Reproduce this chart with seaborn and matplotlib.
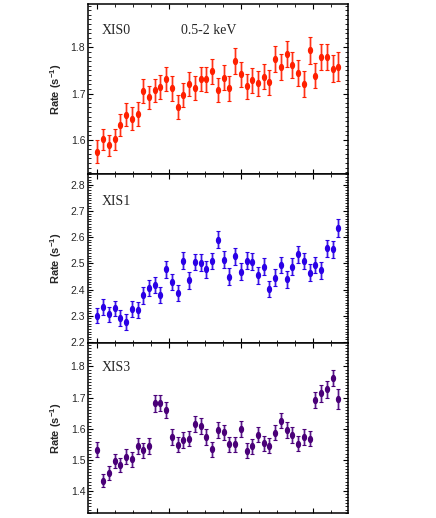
import numpy as np
import pandas as pd
import matplotlib
matplotlib.use("Agg")
import matplotlib.pyplot as plt
import seaborn as sns
from matplotlib.path import Path
from matplotlib.ticker import MultipleLocator, NullFormatter

sns.set_style("ticks")
plt.rcParams["font.family"] = ["Liberation Sans", "DejaVu Sans"]
plt.rcParams["mathtext.default"] = "regular"

# ------------------------------
# data
# ------------------------------
time_bin = list(range(43))

rate_xis0 = [1.575, 1.601, 1.588, 1.601, 1.632, 1.654, 1.646, 1.656, 1.705, 1.692,
             1.707, 1.715, 1.731, 1.711, 1.671, 1.696, 1.721, 1.712, 1.731, 1.731,
             1.748, 1.707, 1.734, 1.711, 1.770, 1.742, 1.716, 1.729, 1.722, 1.736,
             1.724, 1.774, 1.757, 1.786, 1.762, 1.744, 1.721, 1.793, 1.739, 1.779,
             1.779, 1.754, 1.758]
err_xis0 = [0.024, 0.022, 0.023, 0.023, 0.024, 0.025, 0.025, 0.025, 0.026, 0.025,
            0.025, 0.026, 0.026, 0.026, 0.025, 0.026, 0.026, 0.026, 0.026, 0.027,
            0.027, 0.026, 0.027, 0.026, 0.028, 0.027, 0.027, 0.027, 0.027, 0.027,
            0.027, 0.028, 0.028, 0.028, 0.028, 0.028, 0.028, 0.030, 0.028, 0.029,
            0.029, 0.029, 0.031]

rate_xis1 = [2.301, 2.333, 2.306, 2.328, 2.291, 2.277, 2.327, 2.322, 2.378, 2.405,
             2.418, 2.379, 2.478, 2.429, 2.386, 2.510, 2.435, 2.505, 2.503, 2.477,
             2.509, 2.591, 2.514, 2.449, 2.527, 2.468, 2.510, 2.506, 2.454, 2.488,
             2.403, 2.445, 2.494, 2.440, 2.488, 2.535, 2.509, 2.464, 2.494, 2.474,
             2.558, 2.554, 2.635]
err_xis1 = [0.030, 0.030, 0.029, 0.030, 0.030, 0.030, 0.031, 0.031, 0.031, 0.031,
            0.031, 0.031, 0.032, 0.032, 0.031, 0.032, 0.032, 0.032, 0.032, 0.032,
            0.032, 0.033, 0.032, 0.032, 0.032, 0.032, 0.032, 0.032, 0.032, 0.032,
            0.031, 0.032, 0.032, 0.032, 0.032, 0.033, 0.032, 0.032, 0.032, 0.032,
            0.033, 0.033, 0.036]

rate_xis3 = [1.532, 1.432, 1.457, 1.495, 1.484, 1.509, 1.502, 1.545, 1.530, 1.545,
             1.681, 1.683, 1.660, 1.574, 1.548, 1.564, 1.568, 1.614, 1.609, 1.573,
             1.534, 1.596, 1.588, 1.550, 1.550, 1.598, 1.529, 1.543, 1.581, 1.553,
             1.545, 1.587, 1.626, 1.596, 1.580, 1.551, 1.574, 1.568, 1.691, 1.713,
             1.726, 1.763, 1.694]
err_xis3 = [0.024, 0.021, 0.022, 0.023, 0.023, 0.024, 0.024, 0.025, 0.024, 0.025,
            0.026, 0.026, 0.026, 0.025, 0.024, 0.025, 0.025, 0.025, 0.025, 0.025,
            0.024, 0.025, 0.025, 0.024, 0.024, 0.025, 0.024, 0.024, 0.025, 0.024,
            0.024, 0.025, 0.025, 0.025, 0.025, 0.024, 0.025, 0.025, 0.026, 0.026,
            0.026, 0.025, 0.032]

panels = [
    ("XIS0", rate_xis0, err_xis0, "#ff2000", "#ff9a90", (1.527, 1.893), [1.6, 1.7, 1.8], 0.847),
    ("XIS1", rate_xis1, err_xis1, "#2a00e6", "#9c8cf0", (2.195, 2.842), [2.2, 2.3, 2.4, 2.5, 2.6, 2.7, 2.8], 0.834),
    ("XIS3", rate_xis3, err_xis3, "#4a0078", "#ad90cc", (1.329, 1.874), [1.4, 1.5, 1.6, 1.7, 1.8], 0.859),
]

# tall ellipse marker
theta = np.linspace(0, 2 * np.pi, 40)
ellipse = Path(np.column_stack([0.72 * np.cos(theta), np.sin(theta)]), closed=True)

fig, axes = plt.subplots(3, 1, figsize=(4.36, 5.18), dpi=100)
fig.subplots_adjust(left=0.202, right=0.798, top=0.992, bottom=0.0097, hspace=0)

major_x = 12.54

for ax, (name, rate, err, col, light, ylim, yticks, ty) in zip(axes, panels):
    df = pd.DataFrame({"bin": time_bin, "rate": rate, "err": err})

    ax.errorbar(df["bin"], df["rate"], yerr=df["err"], fmt="none",
                ecolor=light, elinewidth=1.8, capsize=0, zorder=1)
    ax.errorbar(df["bin"], df["rate"], yerr=df["err"], fmt="none",
                ecolor=col, elinewidth=0.6, capsize=1.6, capthick=0.8, zorder=2)
    sns.scatterplot(data=df, x="bin", y="rate", ax=ax, color=col,
                    marker=ellipse, s=28, linewidth=0, zorder=3)

    ax.set_xlim(-1.62, 43.68)
    ax.set_ylim(*ylim)
    ax.set_yticks(yticks)
    ax.yaxis.set_minor_locator(MultipleLocator(0.01))
    ax.xaxis.set_major_locator(MultipleLocator(major_x))
    ax.xaxis.set_minor_locator(MultipleLocator(major_x / 4))
    ax.xaxis.set_major_formatter(NullFormatter())
    ax.set_yticklabels([f"{t:.1f}" for t in yticks])

    ax.tick_params(which="both", direction="in", top=True, right=True,
                   color="black", labelsize=7.5, pad=2)
    ax.tick_params(which="major", length=3.8, width=0.8)
    ax.tick_params(which="minor", length=2.2, width=0.6)
    for sp in ax.spines.values():
        sp.set_linewidth(1.1)
        sp.set_color("black")

    ax.set_xlabel("")
    ax.set_ylabel("Rate (s$^{-1}$)", fontsize=8, fontweight="bold")
    ax.yaxis.set_label_coords(-0.092, 0.5)

    ax.text(0.054, ty, name, transform=ax.transAxes, fontsize=10,
            family="Liberation Serif", va="center", ha="left")

axes[0].text(0.358, 0.847, "0.5-2 keV", transform=axes[0].transAxes,
             fontsize=10, family="Liberation Serif", va="center", ha="left")

fig.savefig("out.png", dpi=100)
